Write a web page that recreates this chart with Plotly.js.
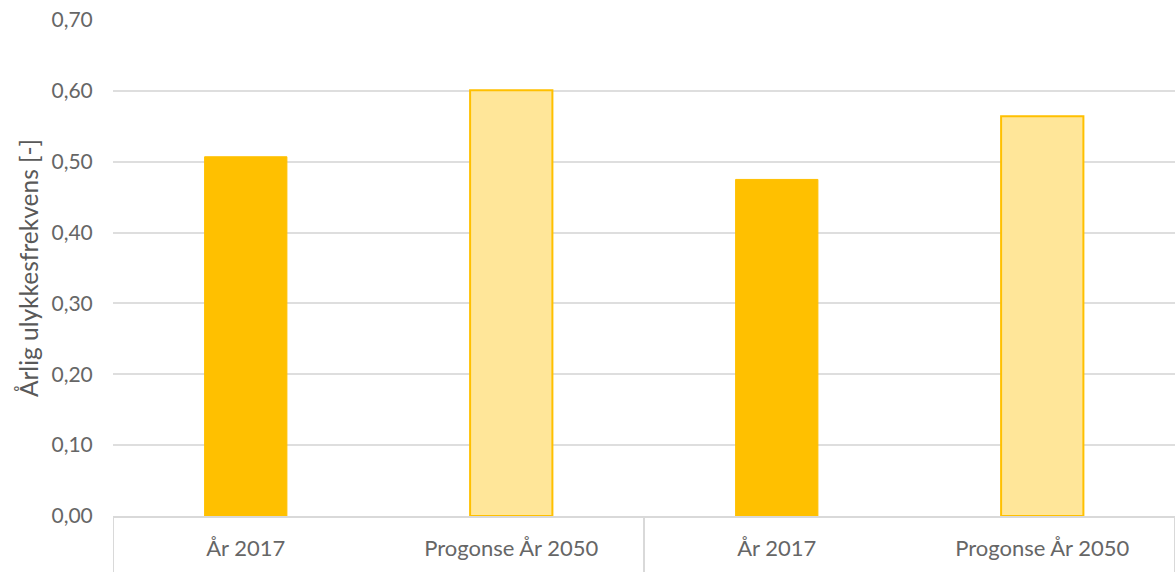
<!DOCTYPE html>
<html>
<head>
<meta charset="utf-8">
<script src="https://cdn.plot.ly/plotly-3.0.1.min.js"></script>
<style>
html,body{margin:0;padding:0;background:#fff;overflow:hidden;}
#chart{width:1175px;height:572px;}
</style>
</head>
<body>
<div id="chart"></div>
<script>
// Data
const categories = ["År 2017", "Progonse År 2050", "År 2017", "Progonse År 2050"];
const values = [0.507, 0.601, 0.475, 0.564];
const yTickValues = [0, 0.1, 0.2, 0.3, 0.4, 0.5, 0.6, 0.7];
const yTitle = "Årlig ulykkesfrekvens [-]";

const idx = categories.map((c, i) => i);
const idx2017 = idx.filter(i => i % 2 === 0);
const idx2050 = idx.filter(i => i % 2 === 1);

const traces = [
  {
    type: "bar",
    x: idx2017,
    y: idx2017.map(i => values[i]),
    width: 0.31,
    marker: {color: "#FFC000", line: {color: "#FFC000", width: 1}},
    hoverinfo: "skip",
    showlegend: false
  },
  {
    type: "bar",
    x: idx2050,
    y: idx2050.map(i => values[i]),
    width: 0.31,
    marker: {color: "#FFE699", line: {color: "#FFC000", width: 2}},
    hoverinfo: "skip",
    showlegend: false
  }
];

// group dividers below the axis (between category pairs)
const dividers = [-0.5, 1.5, 3.5].map(v => ({
  type: "line", xref: "x", yref: "paper",
  x0: v, x1: v, y0: 0, y1: -0.2,
  line: {color: "#d9d9d9", width: 2}
}));

const layout = {
  width: 1175, height: 572,
  margin: {l: 113, r: 0, t: 20, b: 56},
  paper_bgcolor: "#ffffff",
  plot_bgcolor: "#ffffff",
  separators: ", ",
  barmode: "overlay",
  font: {family: "Lato, 'Open Sans', sans-serif", color: "#666666", size: 17},
  xaxis: {
    range: [-0.5, categories.length - 0.5],
    tickmode: "array",
    tickvals: idx,
    ticktext: categories,
    showgrid: false,
    zeroline: false,
    showline: true,
    linecolor: "#d9d9d9",
    linewidth: 2,
    ticks: "outside",
    ticklen: 12,
    tickcolor: "rgba(0,0,0,0)",
    tickfont: {size: 22, color: "#666666"},
    fixedrange: true
  },
  yaxis: {
    range: [0, 0.7],
    tickmode: "array",
    tickvals: yTickValues,
    tickformat: ".2f",
    showgrid: true,
    gridcolor: "#dedede",
    gridwidth: 2,
    zeroline: false,
    showline: false,
    ticks: "outside",
    ticklen: 15,
    tickcolor: "rgba(0,0,0,0)",
    tickfont: {size: 21, color: "#666666"},
    title: {text: yTitle, font: {size: 24.5, color: "#595959"}, standoff: 5},
    fixedrange: true
  },
  shapes: dividers
};

Plotly.newPlot("chart", traces, layout, {displayModeBar: false, staticPlot: true});
</script>
</body>
</html>
